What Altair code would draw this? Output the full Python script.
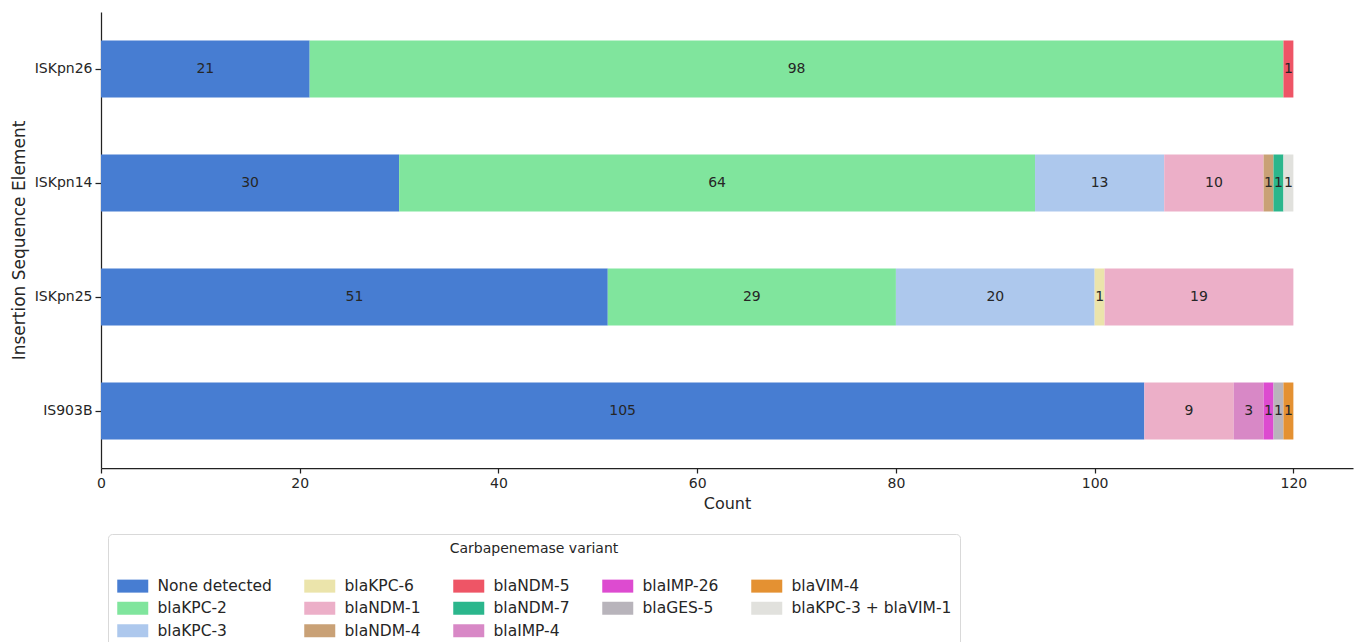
import altair as alt
import pandas as pd

elements = ["ISKpn26", "ISKpn14", "ISKpn25", "IS903B"]
variants = ["None detected", "blaKPC-2", "blaKPC-3", "blaKPC-6", "blaNDM-1", "blaNDM-4",
            "blaNDM-5", "blaNDM-7", "blaIMP-4", "blaIMP-26", "blaGES-5", "blaVIM-4",
            "blaKPC-3 + blaVIM-1"]
colors = ["#477dd2", "#80e59d", "#adc8ed", "#ebe4ab", "#ecafc8", "#c9a176",
          "#ee5566", "#2bb68c", "#d888c6", "#dd4bd0", "#b8b4bb", "#e49132",
          "#e1e1dd"]
counts_ISKpn26 = [21, 98, 0, 0, 0, 0, 1, 0, 0, 0, 0, 0, 0]
counts_ISKpn14 = [30, 64, 13, 0, 10, 1, 0, 1, 0, 0, 0, 0, 1]
counts_ISKpn25 = [51, 29, 20, 1, 19, 0, 0, 0, 0, 0, 0, 0, 0]
counts_IS903B = [105, 0, 0, 0, 9, 0, 0, 0, 3, 1, 1, 1, 0]
x_ticks = [0, 20, 40, 60, 80, 100, 120]
# domain order that makes the 5-column legend read column by column
legend_domain_order = [0, 1, 12, 3, 4, 2, 6, 7, 5, 9, 10, 8, 11]

all_counts = [counts_ISKpn26, counts_ISKpn14, counts_ISKpn25, counts_IS903B]
rows = []
for el, cs in zip(elements, all_counts):
    for i, (v, c) in enumerate(zip(variants, cs)):
        if c > 0:
            rows.append({"element": el, "variant": v, "count": c, "order": i})
df = pd.DataFrame(rows)

leg_domain = [variants[i] for i in legend_domain_order]
leg_range = [colors[i] for i in legend_domain_order]

FONT = "DejaVu Sans"
TXT = "#262626"

base = alt.Chart(df).transform_stack(
    stack="count", groupby=["element"], sort=[alt.SortField("order")], as_=["x0", "x1"]
).transform_calculate(mid="(datum.x0 + datum.x1) / 2")

yenc = alt.Y(
    "element:N", sort=elements,
    scale=alt.Scale(paddingInner=0.5, paddingOuter=0.25),
    axis=alt.Axis(title="Insertion Sequence Element", titleFontSize=17, titleFontWeight="normal",
                  titleFont=FONT, titleColor=TXT, labelFont=FONT, labelFontSize=14,
                  labelColor=TXT, tickSize=6, tickColor="#222", domainColor="#222",
                  domainWidth=1.25, tickWidth=1.25, labelPadding=3, titlePadding=6),
)

bars = base.mark_bar().encode(
    x=alt.X("x0:Q", scale=alt.Scale(domain=[0, 126], nice=False, zero=True),
            axis=alt.Axis(title="Count", values=x_ticks, titleFontSize=16, titleFontWeight="normal",
                          titleFont=FONT, titleColor=TXT, labelFont=FONT, labelFontSize=14,
                          labelColor=TXT, tickSize=5, tickColor="#222", domainColor="#222",
                          domainWidth=1.25, tickWidth=1.25, labelPadding=3, titlePadding=5,
                          grid=False, labelFlush=False)),
    x2="x1:Q",
    y=yenc,
    color=alt.Color(
        "variant:N",
        scale=alt.Scale(domain=leg_domain, range=leg_range),
        legend=alt.Legend(
            title="Carbapenemase variant", orient="none", legendX=7, legendY=522,
            columns=5, direction="vertical",
            titleFont=FONT, titleFontSize=14, titleFontWeight="normal", titleColor=TXT,
            titleAnchor="middle", titleAlign="center", titlePadding=22,
            labelFont=FONT, labelFontSize=15.5, labelColor=TXT, labelLimit=300,
            symbolType="M-1,-1L3.77,-1L3.77,1L-1,1Z", symbolSize=169, symbolStrokeWidth=0,
            symbolOpacity=1, labelOffset=26, columnPadding=31, rowPadding=5.5,
            padding=8, strokeColor="#d9d9d9", fillColor="white", cornerRadius=4,
        ),
    ),
)

text = base.mark_text(font=FONT, fontSize=14, color=TXT).encode(
    x=alt.X("mid:Q"),
    y=alt.Y("element:N", sort=elements),
    text=alt.Text("count:Q"),
)

chart = alt.layer(bars, text).properties(
    width=1252, height=456,
    background="white",
    autosize=alt.AutoSizeParams(type="none"),
    padding={"left": 101, "top": 12, "right": 4, "bottom": 174},
).configure_view(strokeWidth=0, stroke="transparent")

chart.save("out.html", embed_options={"renderer": "svg", "actions": False})
